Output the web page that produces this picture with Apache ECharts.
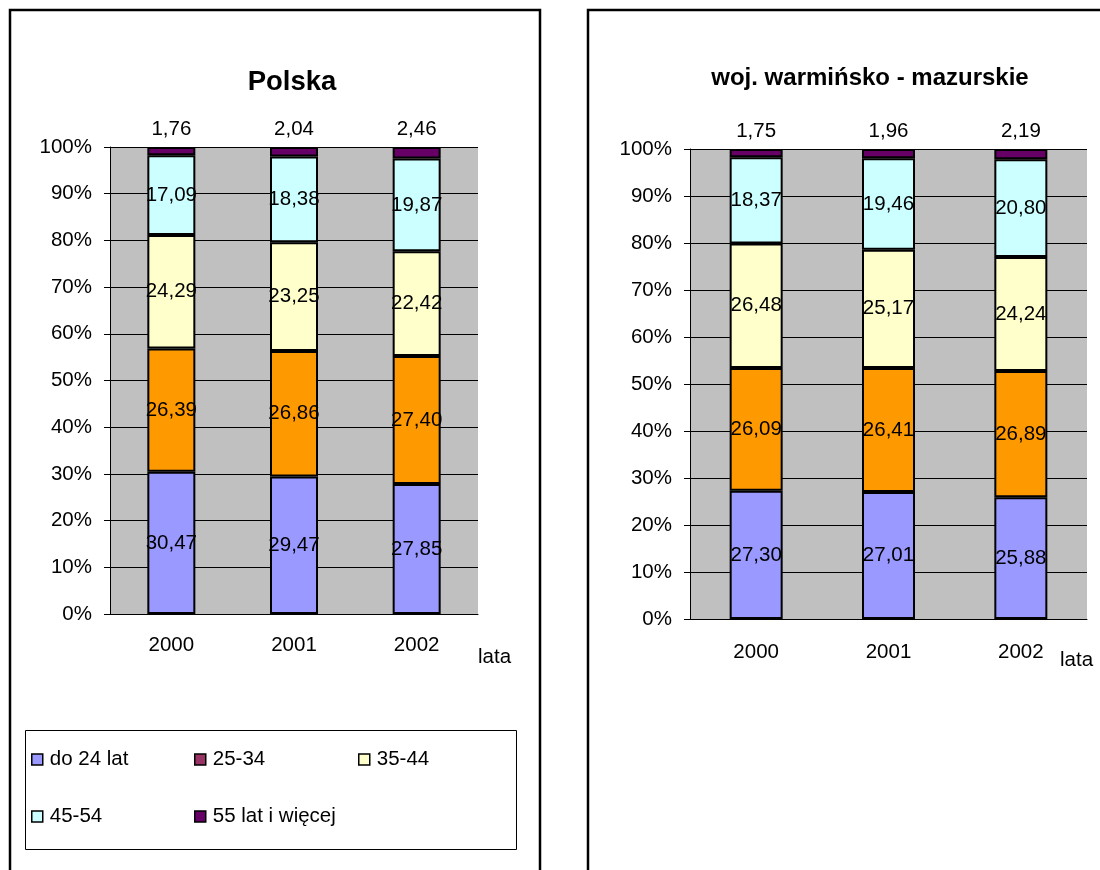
<!DOCTYPE html>
<html><head><meta charset="utf-8">
<script src="https://cdn.jsdelivr.net/npm/echarts@6/dist/echarts.min.js"></script>
<style>html,body{margin:0;padding:0;background:#fff}#c{width:1100px;height:870px}</style>
</head><body><div id="c"></div>
<script>
const years = ['2000', '2001', '2002'];
const groups = ['do 24 lat', '25-34', '35-44', '45-54', '55 lat i więcej'];
const colors = ['#9999FF', '#FF9900', '#FFFFCC', '#CCFFFF', '#660066'];
const legendColors = ['#9999FF', '#993366', '#FFFFCC', '#CCFFFF', '#660066'];
const yTicks = [0, 10, 20, 30, 40, 50, 60, 70, 80, 90, 100];

// Polska
const pl_do24 = [30.47, 29.47, 27.85];
const pl_25_34 = [26.39, 26.86, 27.40];
const pl_35_44 = [24.29, 23.25, 22.42];
const pl_45_54 = [17.09, 18.38, 19.87];
const pl_55 = [1.76, 2.04, 2.46];

// woj. warmińsko - mazurskie
const wm_do24 = [27.30, 27.01, 25.88];
const wm_25_34 = [26.09, 26.41, 26.89];
const wm_35_44 = [26.48, 25.17, 24.24];
const wm_45_54 = [18.37, 19.46, 20.80];
const wm_55 = [1.75, 1.96, 2.19];

const plSeries = [pl_do24, pl_25_34, pl_35_44, pl_45_54, pl_55];
const wmSeries = [wm_do24, wm_25_34, wm_35_44, wm_45_54, wm_55];

const FONT = 'Liberation Sans, Arial, sans-serif';
const FS = 20.5;
const fmt = v => v.toFixed(2).replace('.', ',');

function buildSeries(arrs, gi, barWidth) {
  return arrs.map((vals, i) => ({
    name: groups[i],
    type: 'bar',
    stack: 's' + gi,
    xAxisIndex: gi,
    yAxisIndex: gi,
    barWidth: barWidth,
    data: vals,
    itemStyle: { color: colors[i], borderColor: '#000', borderWidth: 2 },
    label: {
      show: true,
      position: i === 4 ? 'top' : 'inside',
      distance: 7,
      color: '#000',
      fontSize: FS,
      fontFamily: FONT,
      formatter: p => fmt(p.value)
    },
    emphasis: { disabled: true },
    animation: false
  }));
}

function xAxis(gi, margin, nameGap, namePadTop) {
  return {
    type: 'category', gridIndex: gi, data: years,
    axisLine: { lineStyle: { color: '#000', width: 1 } },
    axisTick: { length: 6, lineStyle: { color: '#000' } },
    axisLabel: { color: '#000', fontSize: FS, fontFamily: FONT, margin: margin },
    name: 'lata', nameLocation: 'end', nameGap: nameGap,
    nameTextStyle: { color: '#000', fontSize: FS, fontFamily: FONT, verticalAlign: 'top', align: 'left', padding: [namePadTop, 0, 0, 0] }
  };
}
function yAxis(gi) {
  return {
    type: 'value', gridIndex: gi, min: 0, max: 100, interval: 10,
    axisLine: { show: true, lineStyle: { color: '#000', width: 1 } },
    axisTick: { show: true, length: 6, lineStyle: { color: '#000' } },
    splitLine: { show: true, lineStyle: { color: '#000', width: 1 } },
    axisLabel: { color: '#000', fontSize: FS, fontFamily: FONT, margin: 18, formatter: '{value}%' }
  };
}

const legends = groups.map((g, i) => {
  const pos = [[31, 749], [194, 749], [358, 749], [31, 806], [194, 806]][i];
  return {
    left: pos[0], top: pos[1], padding: 0, itemGap: 0,
    icon: 'rect', itemWidth: 11, itemHeight: 11,
    itemStyle: { borderColor: '#000', borderWidth: 1.5 },
    textStyle: { color: '#000', fontSize: FS, fontFamily: FONT, padding: [0, 0, 0, 2] },
    data: [{ name: g, itemStyle: { color: legendColors[i] } }],
    selectedMode: false
  };
});

const chart = echarts.init(document.getElementById('c'), null, { renderer: 'canvas' });
chart.setOption({
  animation: false,
  backgroundColor: '#fff',
  textStyle: { fontFamily: FONT },
  title: [
    { text: 'Polska', left: 287, top: 63, textAlign: 'center',
      textStyle: { fontSize: 27.5, fontWeight: 'bold', color: '#000', fontFamily: FONT } },
    { text: 'woj. warmińsko - mazurskie', left: 865, top: 61, textAlign: 'center',
      textStyle: { fontSize: 24, fontWeight: 'bold', color: '#000', fontFamily: FONT } }
  ],
  legend: legends,
  grid: [
    { left: 110, top: 147, width: 368, height: 467, show: true, backgroundColor: '#C0C0C0', borderWidth: 0 },
    { left: 690, top: 149, width: 397, height: 470, show: true, backgroundColor: '#C0C0C0', borderWidth: 0 }
  ],
  xAxis: [xAxis(0, 21, 0, 33), xAxis(1, 23, -27, 31)],
  yAxis: [yAxis(0), yAxis(1)],
  graphic: [
    { type: 'rect', shape: { x: 10, y: 10, width: 530, height: 900 }, style: { fill: 'none', stroke: '#000', lineWidth: 2.5 }, silent: true, z: -1 },
    { type: 'rect', shape: { x: 588, y: 10, width: 600, height: 900 }, style: { fill: 'none', stroke: '#000', lineWidth: 2.5 }, silent: true, z: -1 },
    { type: 'rect', shape: { x: 25.5, y: 730.5, width: 491, height: 119 }, style: { fill: 'none', stroke: '#000', lineWidth: 1 }, silent: true, z: -1 }
  ],
  series: [].concat(buildSeries(plSeries, 0, 48), buildSeries(wmSeries, 1, 53))
});
</script>
</body></html>
